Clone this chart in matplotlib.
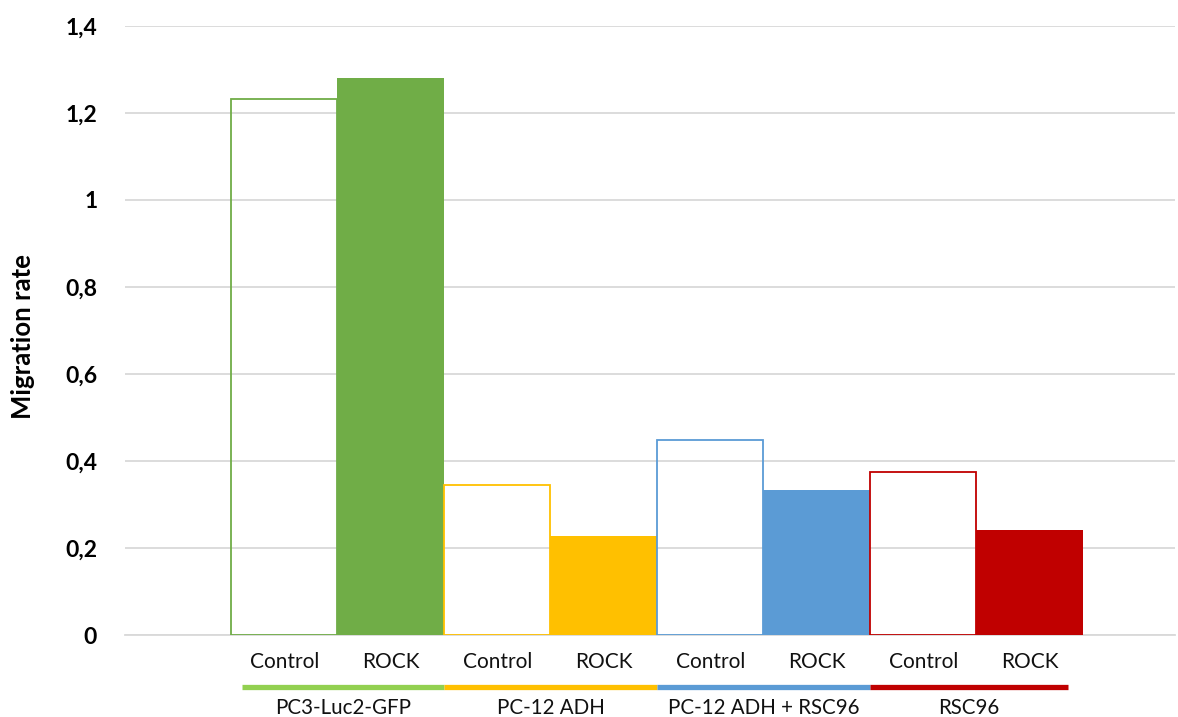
import matplotlib
matplotlib.use("Agg")
import matplotlib.pyplot as plt
import matplotlib.transforms as mtransforms

plt.rcParams['font.family'] = ['Lato', 'DejaVu Sans']

groups = ["PC3-Luc2-GFP", "PC-12 ADH", "PC-12 ADH + RSC96", "RSC96"]
conditions = ["Control", "ROCK"]
control_values = [1.233, 0.344, 0.448, 0.375]
rock_values = [1.280, 0.228, 0.334, 0.241]
group_colors = ["#70AD47", "#FFC000", "#5B9BD5", "#C00000"]
line_colors = ["#92D050", "#FFC000", "#5B9BD5", "#C00000"]
yticks = [0, 0.2, 0.4, 0.6, 0.8, 1.0, 1.2, 1.4]
ytick_labels = ["0", "0,2", "0,4", "0,6", "0,8", "1", "1,2", "1,4"]

fig = plt.figure(figsize=(11.78, 7.17), dpi=100)
ax = fig.add_axes([125/1178, 1 - 635/717, 1050/1178, 609/717])

for i in range(len(groups)):
    xc = 2 * i
    xr = 2 * i + 1
    ax.bar(xc, control_values[i], width=1.0, facecolor='none',
           edgecolor=group_colors[i], linewidth=1.3, zorder=3)
    ax.bar(xr, rock_values[i], width=1.0, color=group_colors[i],
           edgecolor='none', zorder=3)

ax.set_xlim(-1.495, 8.364)
ax.set_ylim(0, 1.4)
ax.set_yticks(yticks)
ax.set_yticklabels(ytick_labels, fontsize=16.5, fontweight='bold', color='black')
ax.tick_params(axis='y', length=0, pad=20)
ax.set_xticks([])
ax.yaxis.grid(True, color='#D9D9D9', linewidth=1.3)
ax.set_axisbelow(True)
for s in ['top', 'right', 'left']:
    ax.spines[s].set_visible(False)
ax.spines['bottom'].set_color('#D9D9D9')
ax.spines['bottom'].set_linewidth(1.3)

ax.set_ylabel("Migration rate", fontsize=18.5, fontweight='bold', color='black')
ax.yaxis.set_label_coords(-0.086, 0.49)

trans = mtransforms.blended_transform_factory(ax.transData, ax.transAxes)
for i in range(len(groups)):
    for j, cond in enumerate(conditions):
        ax.text(2 * i + j, -0.0542, cond, transform=trans, ha='center',
                va='baseline', fontsize=15, color='#111111', clip_on=False)

starts = [2 * i - 0.5 for i in range(len(groups))]
ends = [2 * i + 1.5 for i in range(len(groups))]
starts[0] += 0.1
ends[-1] -= 0.14
for i in range(len(groups)):
    ax.plot([starts[i], ends[i]], [-0.0846, -0.0846], transform=trans,
            color=line_colors[i], linewidth=3.8, solid_capstyle='butt',
            clip_on=False)
    ax.text((starts[i] + ends[i]) / 2, -0.1297, groups[i], transform=trans,
            ha='center', va='baseline', fontsize=14.8, color='#111111',
            clip_on=False)

fig.savefig("out.png", dpi=100)
